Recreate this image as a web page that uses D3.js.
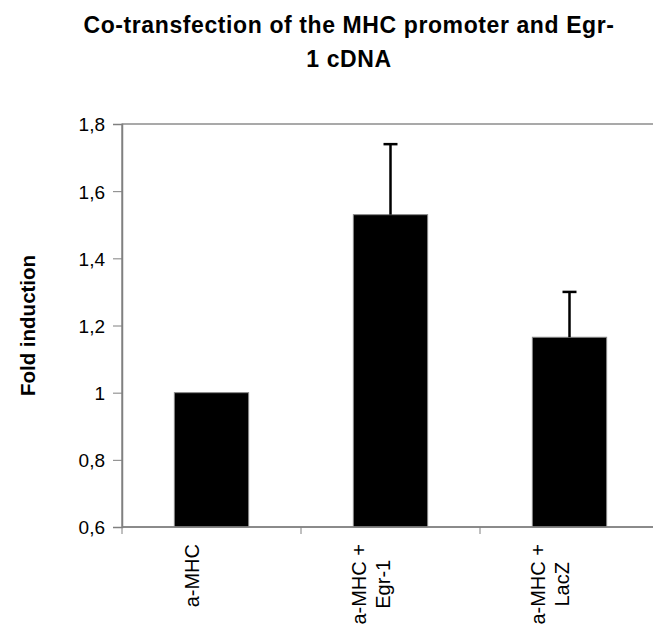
<!DOCTYPE html>
<html>
<head>
<meta charset="utf-8">
<script src="https://cdn.jsdelivr.net/npm/d3@7"></script>
<style>
  body { margin: 0; background: #fff; }
  text { font-family: "Liberation Sans", Arial, sans-serif; }
</style>
</head>
<body>
<div id="vis"></div>
<script>
const categories = [["a-MHC"], ["a-MHC +", "Egr-1"], ["a-MHC +", "LacZ"]];
const values = [1.0, 1.53, 1.165];
const errors = [0, 0.21, 0.135];
const yTicks = [0.6, 0.8, 1.0, 1.2, 1.4, 1.6, 1.8];

const width = 653, height = 625;
const mLeft = 122, mRight = 659, mTop = 124, mBottom = 527;

const svg = d3.select("#vis").append("svg")
    .attr("width", width)
    .attr("height", height);

const x = d3.scaleBand()
    .domain(d3.range(values.length))
    .range([mLeft, mRight])
    .paddingInner(0.585)
    .paddingOuter(0.2925);

const y = d3.scaleLinear()
    .domain([0.6, 1.8])
    .range([mBottom, mTop]);

// title, two lines
["Co-transfection of the MHC promoter and Egr-", "1 cDNA"].forEach(function (t, i) {
    svg.append("text")
        .attr("x", 349).attr("y", 33 + i * 34)
        .attr("text-anchor", "middle")
        .style("font-size", "23px").style("font-weight", "bold")
        .style("letter-spacing", "0.6px")
        .text(t);
});

// plot area border (top / right edge)
svg.append("rect")
    .attr("x", mLeft).attr("y", mTop)
    .attr("width", mRight - mLeft).attr("height", mBottom - mTop)
    .attr("fill", "none")
    .attr("stroke", "#555").attr("stroke-width", 1);

// y axis
const yAxis = svg.append("g")
    .attr("transform", `translate(${mLeft},0)`)
    .call(d3.axisLeft(y).tickValues(yTicks).tickSize(9).tickPadding(8)
        .tickFormat(d => d3.format(".1f")(d).replace(".0", "").replace(".", ",")));
yAxis.select(".domain").attr("stroke", "#808080").attr("stroke-width", 1.5);
yAxis.selectAll(".tick line").attr("stroke", "#808080");
yAxis.selectAll("text").style("font-size", "19px").attr("fill", "#000")
    .attr("dy", "0.36em")
    .style("font-family", "'Liberation Sans', Arial, sans-serif");

svg.append("text")
    .attr("transform", `translate(35,${(mTop + mBottom) / 2}) rotate(-90)`)
    .attr("text-anchor", "middle")
    .style("font-size", "20.5px").style("font-weight", "bold")
    .text("Fold induction");

// bars
svg.selectAll("rect.bar")
    .data(values)
    .enter().append("rect")
    .attr("class", "bar")
    .attr("x", (d, i) => x(i))
    .attr("width", x.bandwidth())
    .attr("y", d => y(d))
    .attr("height", d => y(0.6) - y(d))
    .attr("fill", "#000")
    .attr("stroke", "#888")
    .attr("stroke-width", 1);

// error bars (upper only)
const eb = svg.selectAll("g.err")
    .data(values.map((v, i) => ({v: v, e: errors[i], i: i})).filter(d => d.e > 0))
    .enter().append("g");
eb.append("line")
    .attr("x1", d => x(d.i) + x.bandwidth() / 2)
    .attr("x2", d => x(d.i) + x.bandwidth() / 2)
    .attr("y1", d => y(d.v))
    .attr("y2", d => y(d.v + d.e))
    .attr("stroke", "#000").attr("stroke-width", 2.5);
eb.append("line")
    .attr("x1", d => x(d.i) + x.bandwidth() / 2 - 7)
    .attr("x2", d => x(d.i) + x.bandwidth() / 2 + 7)
    .attr("y1", d => y(d.v + d.e))
    .attr("y2", d => y(d.v + d.e))
    .attr("stroke", "#000").attr("stroke-width", 2.5);

// x axis
svg.append("line")
    .attr("x1", mLeft).attr("x2", mRight)
    .attr("y1", mBottom).attr("y2", mBottom)
    .attr("stroke", "#808080").attr("stroke-width", 1.5);
const bounds = d3.range(values.length + 1).map(i => mLeft + i * x.step());
svg.selectAll("line.xt")
    .data(bounds)
    .enter().append("line")
    .attr("x1", d => d).attr("x2", d => d)
    .attr("y1", mBottom).attr("y2", mBottom + 7)
    .attr("stroke", "#808080");

// category labels, rotated; lines centred on each other, block hangs from the axis
const labTop = 544, lineGap = 24;
categories.forEach(function (lines, i) {
    const cx = x(i) + x.bandwidth() / 2;
    const g = svg.append("g");
    const texts = lines.map(function (t) {
        return g.append("text")
            .attr("text-anchor", "middle")
            .style("font-size", "20px")
            .text(t);
    });
    const longest = d3.max(texts, t => t.node().getComputedTextLength());
    const b0 = -12.5 - (lines.length - 1) * lineGap / 2;
    texts.forEach(function (t, j) {
        t.attr("transform", `translate(${cx + b0 + j * lineGap},${labTop + longest / 2}) rotate(-90)`);
    });
});
</script>
</body>
</html>
